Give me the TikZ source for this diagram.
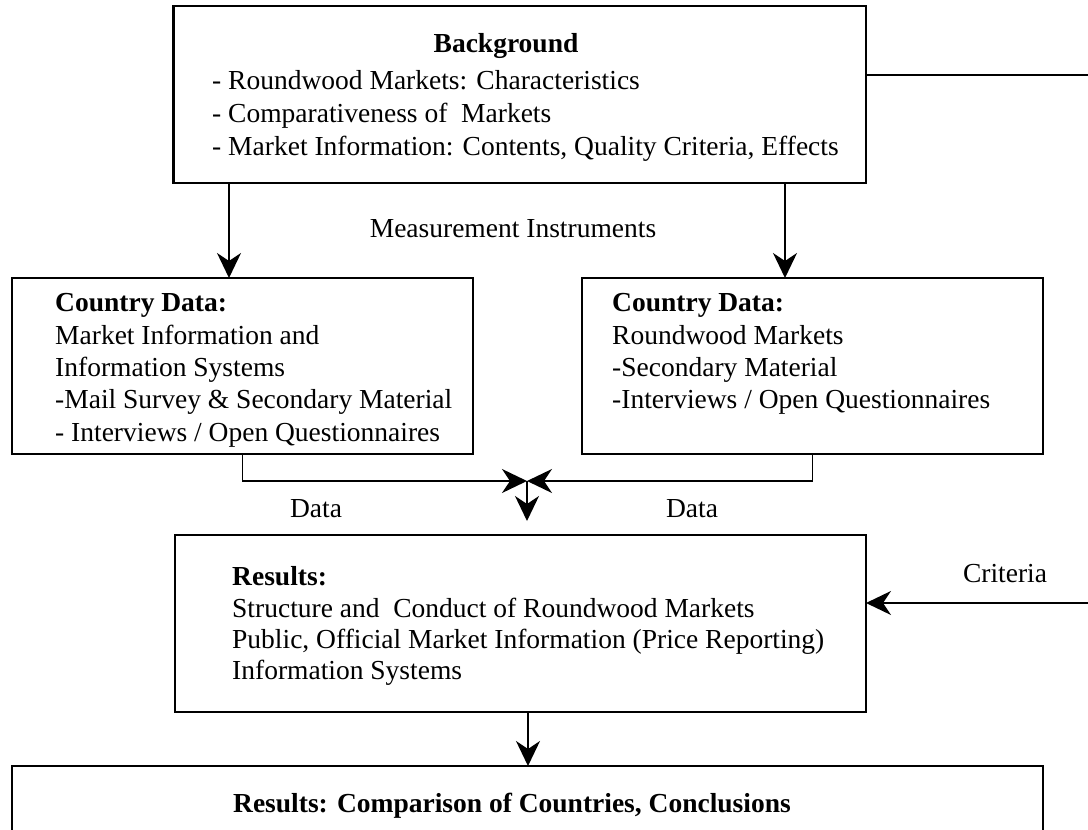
\documentclass[tikz,border=0pt]{standalone}
\usepackage{fontspec}
\setmainfont{Liberation Serif}
\usetikzlibrary{arrows.meta}
\begin{document}
\begin{tikzpicture}[x=1pt,y=-1pt,
  box/.style={draw, line width=2.6pt, rectangle, inner sep=0pt, outer sep=0pt},
  conn/.style={line width=1.4pt},
  arr/.style={conn, -{Stealth[length=25pt, width=24pt, inset=8pt]}},
  txt/.style={inner sep=0pt, anchor=base west, font=\fontsize{27.5}{32}\selectfont},
  head/.style={txt, font=\fontsize{27.5}{32}\selectfont\bfseries},
  lbl/.style={inner sep=0pt, anchor=base, font=\fontsize{27.5}{32}\selectfont}]
\useasboundingbox (0,0) rectangle (1088,830);
\clip (0,0) rectangle (1088,830);

% boxes
\node[box, minimum width=692.5pt, minimum height=177pt] (bg) at (519.75,94.5) {};
\node[box, minimum width=461pt, minimum height=176pt] (lb) at (242.5,366) {};
\node[box, minimum width=461pt, minimum height=176pt] (rb) at (812.5,366) {};
\node[box, minimum width=691pt, minimum height=177pt] (res) at (520.5,623.5) {};
\node[box, minimum width=1031pt, minimum height=180pt] (fin) at (527.5,856) {};

% background box text
\node[head, anchor=base] (bgh) at (506,52) {Background};
\node[txt] (bg1) at (212,89) {- Roundwood Markets: Characteristics};
\node[txt] (bg2) at (212,122) {- Comparativeness of\ \ Markets};
\node[txt] (bg3) at (212,155) {- Market Information: Contents, Quality Criteria, Effects};

% country data, information side
\node[head] (lbh) at (55,311) {Country Data:};
\node[txt] (lb1) at (55,344) {Market Information and};
\node[txt] (lb2) at (55,376) {Information Systems};
\node[txt] (lb3) at (55,408) {-Mail Survey \& Secondary Material};
\node[txt] (lb4) at (55,441) {- Interviews / Open Questionnaires};

% country data, markets side
\node[head] (rbh) at (612,311) {Country Data:};
\node[txt] (rb1) at (612,344) {Roundwood Markets};
\node[txt] (rb2) at (612,376) {-Secondary Material};
\node[txt] (rb3) at (612,408) {-Interviews / Open Questionnaires};

% results box
\node[head] (resh) at (232,585) {Results:};
\node[txt] (res1) at (232,617) {Structure and\ \ Conduct of Roundwood Markets};
\node[txt] (res2) at (232,648) {Public, Official Market Information (Price Reporting)};
\node[txt] (res3) at (232,679) {Information Systems};

% final box
\node[head, anchor=base] (finh) at (512,812) {Results: Comparison of Countries, Conclusions};

% connector labels
\node[lbl] (mi) at (513,237) {Measurement Instruments};
\node[lbl] (d1) at (316,517) {Data};
\node[lbl] (d2) at (692,517) {Data};
\node[lbl] (cr) at (1005,582) {Criteria};

% helper points
\coordinate (ta) at (229,0);
\coordinate (tb) at (785,0);
\coordinate (m) at (527,481);
\coordinate (mt) at (527,521);
\coordinate (fa) at (528,0);
\coordinate (rt) at (1088,75);
\coordinate (rc) at (1088,603);

% connectors
\draw[arr] (bg.south -| ta) -- (lb.north -| ta);
\draw[arr] (bg.south -| tb) -- (rb.north -| tb);
\draw[arr] (lb.south) |- (m);
\draw[arr] (rb.south) |- (m);
\draw[arr] (m) -- (mt);
\draw[arr] (res.south -| fa) -- (fin.north -| fa);
\draw[conn] (rt -| bg.east) -- (rt);
\draw[arr] (rc) -- (rc -| res.east);
\end{tikzpicture}
\end{document}
